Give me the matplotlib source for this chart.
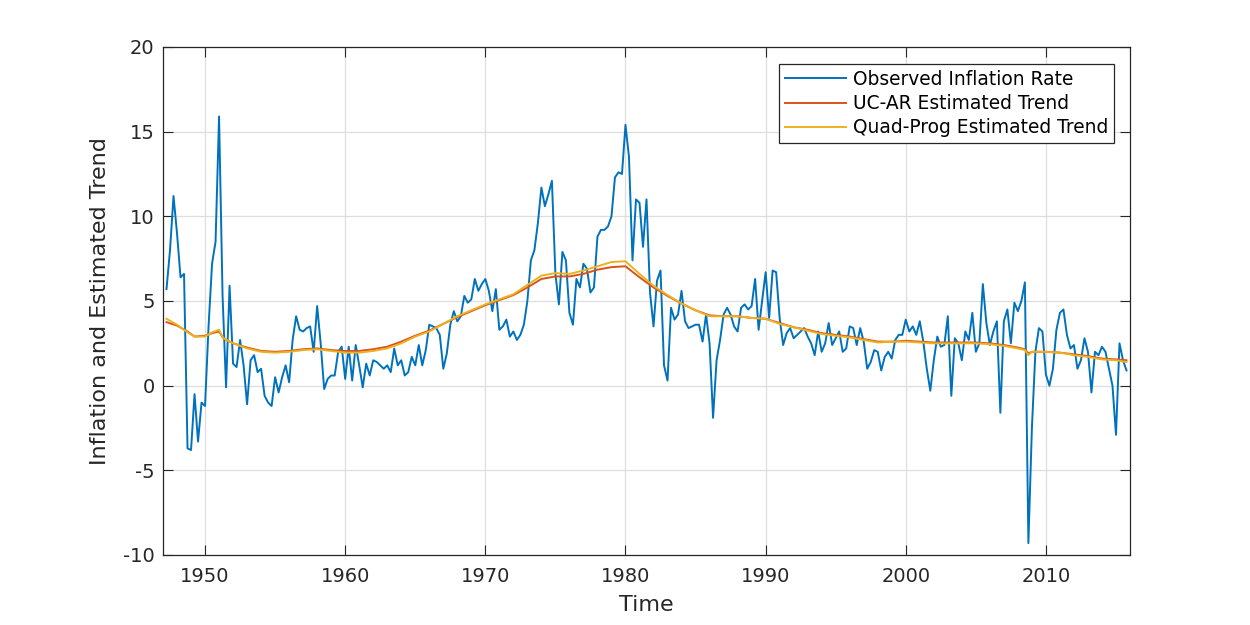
import numpy as np
import matplotlib
matplotlib.use("Agg")
import matplotlib.pyplot as plt

# Observed inflation rate, quarterly, starting 1947 Q2
infl_by_year = [
    [5.7, 8.0, 11.2],                 # 1947 (Q2-Q4)
    [9.0, 6.4, 6.6, -3.7],            # 1948
    [-3.8, -0.5, -3.3, -1.0],         # 1949
    [-1.2, 3.5, 7.2, 8.5],            # 1950
    [15.9, 5.3, -0.1, 5.9],           # 1951
    [1.3, 1.1, 2.7, 1.2],             # 1952
    [-1.1, 1.5, 1.8, 0.8],            # 1953
    [1.0, -0.6, -1.0, -1.2],          # 1954
    [0.5, -0.4, 0.5, 1.2],            # 1955
    [0.2, 2.7, 4.1, 3.3],             # 1956
    [3.2, 3.4, 3.5, 2.0],             # 1957
    [4.7, 2.5, -0.2, 0.4],            # 1958
    [0.6, 0.6, 2.0, 2.3],             # 1959
    [0.4, 2.3, 0.3, 2.4],             # 1960
    [1.2, -0.1, 1.3, 0.6],            # 1961
    [1.5, 1.4, 1.2, 1.0],             # 1962
    [1.2, 0.8, 2.2, 1.2],             # 1963
    [1.5, 0.6, 0.8, 1.7],             # 1964
    [1.2, 2.4, 1.2, 2.1],             # 1965
    [3.6, 3.5, 3.4, 3.0],             # 1966
    [1.0, 1.9, 3.6, 4.4],             # 1967
    [3.8, 4.1, 5.3, 4.9],             # 1968
    [5.1, 6.3, 5.6, 6.0],             # 1969
    [6.3, 5.6, 4.4, 5.7],             # 1970
    [3.3, 3.5, 3.9, 2.9],             # 1971
    [3.2, 2.7, 3.0, 3.6],             # 1972
    [5.0, 7.4, 8.0, 9.6],             # 1973
    [11.7, 10.6, 11.3, 12.1],         # 1974
    [6.6, 4.8, 7.9, 7.4],             # 1975
    [4.3, 3.6, 6.3, 5.8],             # 1976
    [7.2, 6.9, 5.5, 5.8],             # 1977
    [8.8, 9.2, 9.2, 9.4],             # 1978
    [10.0, 12.3, 12.6, 12.5],         # 1979
    [15.4, 13.5, 7.4, 11.0],          # 1980
    [10.8, 8.2, 11.0, 5.5],           # 1981
    [3.5, 6.2, 6.8, 1.2],             # 1982
    [0.3, 4.6, 3.9, 4.2],             # 1983
    [5.6, 3.8, 3.4, 3.5],             # 1984
    [3.6, 3.6, 2.6, 4.2],             # 1985
    [2.5, -1.9, 1.5, 2.7],            # 1986
    [4.2, 4.6, 4.2, 3.5],             # 1987
    [3.2, 4.6, 4.8, 4.5],             # 1988
    [4.7, 6.3, 3.3, 5.0],             # 1989
    [6.7, 4.0, 6.8, 6.7],             # 1990
    [4.0, 2.4, 3.1, 3.4],             # 1991
    [2.8, 3.0, 3.2, 3.4],             # 1992
    [2.9, 2.5, 1.8, 3.2],             # 1993
    [2.0, 2.5, 3.7, 2.4],             # 1994
    [2.8, 3.2, 2.0, 2.2],             # 1995
    [3.5, 3.4, 2.4, 3.4],             # 1996
    [2.6, 1.0, 1.4, 2.1],             # 1997
    [2.0, 0.9, 1.7, 2.0],             # 1998
    [1.6, 2.7, 3.0, 3.0],             # 1999
    [3.9, 3.2, 3.5, 3.0],             # 2000
    [3.8, 2.6, 1.0, -0.3],            # 2001
    [1.5, 2.9, 2.3, 2.4],             # 2002
    [4.1, -0.6, 2.8, 2.5],            # 2003
    [1.5, 3.2, 2.7, 4.3],             # 2004
    [2.0, 2.5, 6.0, 3.7],             # 2005
    [2.4, 3.2, 3.8, -1.6],            # 2006
    [3.8, 4.5, 2.5, 4.9],             # 2007
    [4.4, 5.0, 6.1, -9.3],            # 2008
    [-2.5, 2.0, 3.4, 3.2],            # 2009
    [0.65, 0.0, 1.0, 3.3],            # 2010
    [4.3, 4.5, 3.0, 2.2],             # 2011
    [2.4, 1.0, 1.5, 2.8],             # 2012
    [2.0, -0.4, 2.0, 1.8],            # 2013
    [2.3, 2.0, 1.0, 0.0],             # 2014
    [-2.9, 2.5, 1.5, 0.9],            # 2015
]
inflation = [v for row in infl_by_year for v in row]
obs_time = 1947.25 + 0.25 * np.arange(len(inflation))

# Estimated trends
trend_time = [1947.25, 1948, 1948.75, 1949.25, 1950, 1950.5, 1951, 1951.3,
              1952, 1953, 1954, 1955, 1956, 1957, 1958, 1959, 1960, 1961,
              1962, 1963, 1964, 1965, 1966, 1967, 1968, 1969, 1970, 1971,
              1972, 1973, 1974, 1975, 1976, 1977, 1978, 1979, 1980, 1981,
              1982, 1983, 1984, 1985, 1986, 1987, 1988, 1989, 1990, 1991,
              1992, 1993, 1994, 1995, 1996, 1997, 1998, 1999, 2000, 2001,
              2002, 2003, 2004, 2005, 2006, 2007, 2008, 2008.5, 2008.75,
              2009, 2010, 2011, 2012, 2013, 2014, 2015, 2015.75]
uc_ar_trend = [3.75, 3.55, 3.2, 2.9, 2.95, 3.1, 3.2, 2.8,
               2.5, 2.25, 2.05, 2.0, 2.05, 2.15, 2.2, 2.1, 2.05, 2.05,
               2.15, 2.3, 2.6, 2.95, 3.25, 3.65, 4.05, 4.4, 4.75, 5.05,
               5.35, 5.8, 6.3, 6.45, 6.45, 6.6, 6.85, 7.0, 7.05, 6.4,
               5.8, 5.3, 4.85, 4.45, 4.15, 4.1, 4.1, 4.0, 3.95, 3.7,
               3.45, 3.3, 3.1, 3.0, 2.9, 2.75, 2.6, 2.6, 2.65, 2.6,
               2.55, 2.55, 2.55, 2.55, 2.5, 2.4, 2.25, 2.15, 1.9,
               2.0, 2.0, 1.95, 1.85, 1.75, 1.6, 1.55, 1.5]
quadprog_trend = [3.95, 3.6, 3.15, 2.9, 2.9, 3.15, 3.3, 2.8,
                  2.5, 2.2, 2.0, 1.95, 2.0, 2.1, 2.15, 2.05, 1.95, 1.95,
                  2.05, 2.2, 2.5, 2.9, 3.2, 3.65, 4.1, 4.45, 4.8, 5.1,
                  5.4, 5.95, 6.5, 6.65, 6.6, 6.8, 7.05, 7.3, 7.35, 6.6,
                  5.9, 5.35, 4.85, 4.45, 4.1, 4.1, 4.1, 4.0, 3.95, 3.65,
                  3.45, 3.25, 3.05, 2.95, 2.85, 2.7, 2.55, 2.6, 2.6, 2.55,
                  2.5, 2.5, 2.5, 2.5, 2.45, 2.35, 2.2, 2.1, 1.8,
                  2.0, 2.0, 1.95, 1.8, 1.7, 1.55, 1.5, 1.4]

x_ticks = [1950, 1960, 1970, 1980, 1990, 2000, 2010]
y_ticks = [-10, -5, 0, 5, 10, 15, 20]
labels = ["Observed Inflation Rate", "UC-AR Estimated Trend",
          "Quad-Prog Estimated Trend"]
colors = ["#0072BD", "#D95319", "#EDB120"]

plt.rcParams['font.family'] = ['DejaVu Sans']
plt.rcParams['axes.unicode_minus'] = False
txt = '#262626'

fig = plt.figure(figsize=(12.5, 6.25), dpi=100)
ax = fig.add_axes([0.1304, 0.112, 0.7736, 0.8128])

ax.plot(obs_time, inflation, color=colors[0], lw=1.4, label=labels[0])
ax.plot(trend_time, uc_ar_trend, color=colors[1], lw=1.4, label=labels[1])
ax.plot(trend_time, quadprog_trend, color=colors[2], lw=1.4, label=labels[2])

ax.set_xlim(1947, 2016)
ax.set_ylim(-10, 20)
ax.set_xticks(x_ticks)
ax.set_yticks(y_ticks)
ax.grid(True, color='#dedede', lw=0.9)
ax.set_axisbelow(True)
ax.tick_params(direction='in', length=7, width=0.8, colors=txt,
               labelsize=14, top=True, right=True)
ax.tick_params(axis='x', pad=9)
ax.tick_params(axis='y', pad=6)
for s in ax.spines.values():
    s.set_color(txt)
    s.set_linewidth(0.9)

ax.set_xlabel("Time", fontsize=16, color=txt, labelpad=6)
ax.set_ylabel("Inflation and Estimated Trend", fontsize=16, color=txt,
              labelpad=9)

leg = ax.legend(loc='upper right', bbox_to_anchor=(0.9835, 0.9665),
                fontsize=13.4, frameon=True, fancybox=False, borderaxespad=0,
                handlelength=3.3, handletextpad=0.35, labelspacing=0.28,
                borderpad=0.32)
leg.get_frame().set_edgecolor(txt)
leg.get_frame().set_linewidth(0.9)
leg.get_frame().set_alpha(1)

fig.savefig("out.png", dpi=100, facecolor='white')
